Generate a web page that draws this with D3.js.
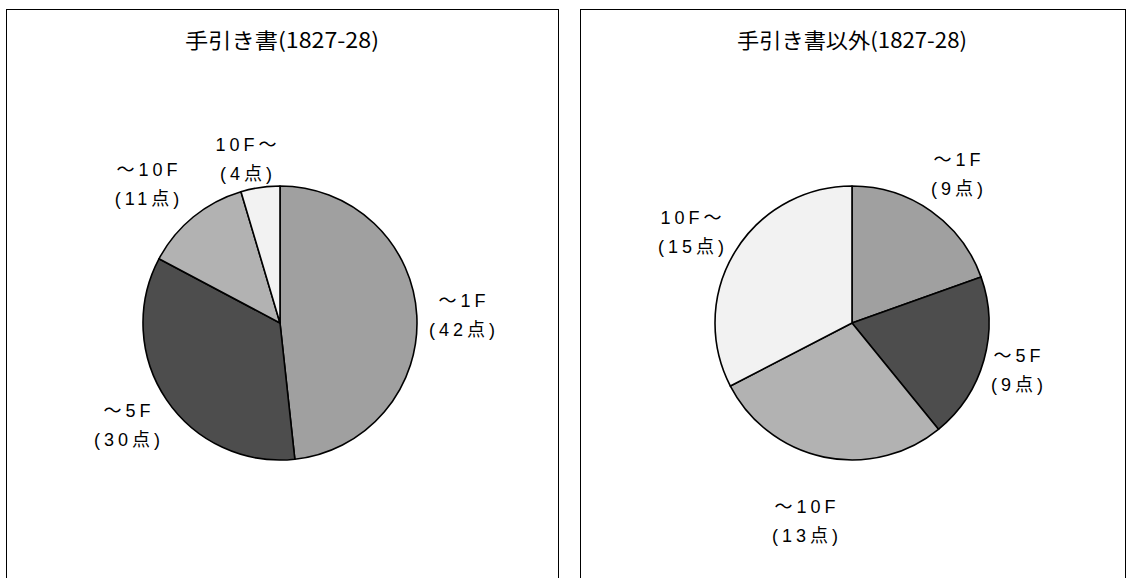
<!DOCTYPE html>
<html>
<head>
<meta charset="utf-8">
<script src="https://cdn.jsdelivr.net/npm/d3@7"></script>
<style>
  html, body { margin: 0; padding: 0; background: #fff; }
  svg { display: block; }
</style>
</head>
<body>
<svg id="chart" width="1129" height="578"></svg>
<script>
// Floor-price bands (categories) shared by both pies
const categories = ["～1F", "～5F", "～10F", "10F～"];

// Counts per band
const manualValues = [42, 30, 11, 4];      // 手引き書
const otherValues = [9, 9, 13, 15];        // 手引き書以外

const titles = ["手引き書(1827-28)", "手引き書以外(1827-28)"];

const sliceColors = ["#a0a0a0", "#4d4d4d", "#b2b2b2", "#f2f2f2"];

const svg = d3.select("#chart");

const panels = [
  { x0: 6, x1: 558, cx: 280, cy: 323, tx: 282, tw: 194, title: titles[0], values: manualValues,
    // label anchor positions (centre of the two-line label)
    labels: [[462, 315], [127, 425], [147, 184], [246, 159]] },
  { x0: 580, x1: 1125, cx: 852, cy: 323, tx: 852, tw: 230, title: titles[1], values: otherValues,
    labels: [[957, 174], [1017, 370], [805, 521], [691, 232]] }
];

const radius = 137;
const pie = d3.pie().sort(null).value(d => d.value);
const arc = d3.arc().innerRadius(0).outerRadius(radius);
const color = d3.scaleOrdinal().domain(categories).range(sliceColors);

const labelFont = "'Liberation Sans', 'Noto Sans CJK JP', sans-serif";

panels.forEach(p => {
  const g = svg.append("g");

  // panel frame (runs past the bottom edge)
  g.append("rect")
    .attr("x", p.x0 + 0.5).attr("y", 9.5)
    .attr("width", p.x1 - p.x0).attr("height", 600)
    .attr("fill", "#fff").attr("stroke", "#000").attr("stroke-width", 1);

  g.append("text")
    .attr("x", p.tx).attr("y", 48)
    .attr("text-anchor", "middle")
    .attr("font-family", "'Noto Sans CJK JP', sans-serif")
    .attr("font-size", 21)
    .attr("textLength", p.tw)
    .attr("lengthAdjust", "spacingAndGlyphs")
    .text(p.title);

  const data = categories.map((c, i) => ({ cat: c, value: p.values[i] }));
  const arcs = pie(data);

  const pg = g.append("g").attr("transform", `translate(${p.cx},${p.cy})`);
  pg.selectAll("path")
    .data(arcs)
    .join("path")
    .attr("d", arc)
    .attr("fill", d => color(d.data.cat))
    .attr("stroke", "#000")
    .attr("stroke-width", 1.6)
    .attr("stroke-linejoin", "round");

  arcs.forEach((a, i) => {
    const [lx, ly] = p.labels[i];
    const t = g.append("text")
      .attr("text-anchor", "middle")
      .attr("font-family", labelFont)
      .attr("font-size", 18)
      .attr("letter-spacing", 4)
      .attr("fill", "#000");
    t.append("tspan").attr("x", lx + 2).attr("y", ly - 8).text(a.data.cat);
    t.append("tspan").attr("x", lx + 2).attr("y", ly + 21).text("(" + a.data.value + "点)");
  });
});
</script>
</body>
</html>
